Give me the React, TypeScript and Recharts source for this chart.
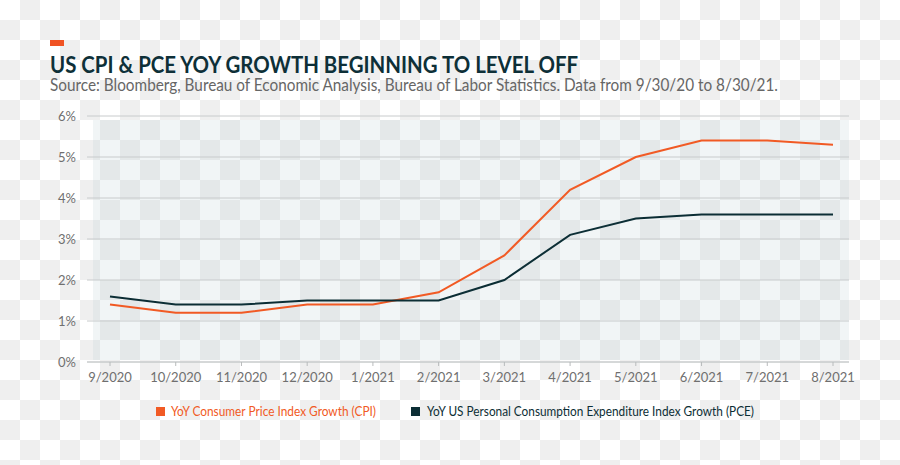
import React from 'react';
import { LineChart, Line, XAxis, YAxis, CartesianGrid } from 'recharts';

const months = ['9/2020', '10/2020', '11/2020', '12/2020', '1/2021', '2/2021', '3/2021', '4/2021', '5/2021', '6/2021', '7/2021', '8/2021'];
const cpiValues = [1.4, 1.2, 1.2, 1.4, 1.4, 1.7, 2.6, 4.2, 5.0, 5.4, 5.4, 5.3];
const pceValues = [1.6, 1.4, 1.4, 1.5, 1.5, 1.5, 2.0, 3.1, 3.5, 3.6, 3.6, 3.6];
const yTicks = [0, 1, 2, 3, 4, 5, 6];

const TITLE = 'US CPI & PCE YOY GROWTH BEGINNING TO LEVEL OFF';
const SUBTITLE = 'Source: Bloomberg, Bureau of Economic Analysis, Bureau of Labor Statistics. Data from 9/30/20 to 8/30/21.';
const CPI_NAME = 'YoY Consumer Price Index Growth (CPI)';
const PCE_NAME = 'YoY US Personal Consumption Expenditure Index Growth (PCE)';

const ORANGE = '#f15a24';
const DARK = '#0c2e35';
const GRID = '#c8cbcc';
const TICK = '#6f6f6f';
const FONT = 'Lato, "Open Sans", sans-serif';

const data = months.map((m, i) => ({ month: m, cpi: cpiValues[i], pce: pceValues[i] }));

const series = [
  { key: 'cpi', name: CPI_NAME, color: ORANGE, textColor: ORANGE },
  { key: 'pce', name: PCE_NAME, color: DARK, textColor: DARK },
];

const checker = (light: string, dark: string) => ({
  backgroundColor: light,
  backgroundImage: `conic-gradient(${dark} 25%, transparent 0 50%, ${dark} 0 75%, transparent 0)`,
  backgroundSize: '40px 40px',
});

export default function App() {
  return (
    <div style={{ position: 'absolute', left: 0, top: 0, width: 900, height: 465, overflow: 'hidden', ...checker('#ffffff', '#efefef') }}>
      <div
        style={{
          position: 'absolute',
          left: 93,
          top: 120,
          width: 756,
          height: 240,
          ...checker('#f1f5f6', '#e4e8e9'),
          backgroundPosition: '-93px -120px',
        }}
      />
      <div style={{ position: 'absolute', left: 0, top: 0 }}>
        <LineChart width={900} height={465} data={data} margin={{ top: 116, right: 51, bottom: 73, left: 37 }}>
          <CartesianGrid vertical={false} stroke={GRID} strokeWidth={1} />
          <XAxis
            dataKey="month"
            padding={{ left: 23, right: 16 }}
            height={30}
            axisLine={{ stroke: GRID }}
            tickLine={{ stroke: '#b8bbbc' }}
            tickSize={4}
            tickMargin={7}
            tick={{ fill: TICK, fontSize: 13, fontFamily: FONT }}
            interval={0}
          />
          <YAxis
            domain={[0, 6]}
            ticks={yTicks}
            width={50}
            axisLine={false}
            tickLine={false}
            tickSize={0}
            tickMargin={11}
            tickFormatter={(v: number) => `${v}%`}
            tick={{ fill: TICK, fontSize: 13, fontFamily: FONT }}
          />
          {series.map((s) => (
            <Line
              key={s.key}
              type="linear"
              dataKey={s.key}
              name={s.name}
              stroke={s.color}
              strokeWidth={2}
              dot={false}
              activeDot={false}
              isAnimationActive={false}
            />
          ))}
        </LineChart>
      </div>
      <svg width={900} height={465} style={{ position: 'absolute', left: 0, top: 0, pointerEvents: 'none' }}>
        <rect x={50} y={40} width={14} height={6} fill="#f05323" />
        <text x={50} y={72.5} fontFamily={FONT} fontWeight={700} fontSize={23} fill="#0e3038" textLength={528} lengthAdjust="spacingAndGlyphs">
          {TITLE}
        </text>
        <text x={50} y={91} fontFamily={FONT} fontSize={17} fill="#666666" textLength={728} lengthAdjust="spacingAndGlyphs">
          {SUBTITLE}
        </text>
        <rect x={156} y={407} width={9} height={9} fill={series[0].color} />
        <text x={171} y={416} fontFamily={FONT} fontSize={13} fill={series[0].textColor} textLength={205} lengthAdjust="spacingAndGlyphs">
          {series[0].name}
        </text>
        <rect x={411} y={407} width={9} height={9} fill={series[1].color} />
        <text x={427} y={416} fontFamily={FONT} fontSize={13} fill={series[1].textColor} textLength={327} lengthAdjust="spacingAndGlyphs">
          {series[1].name}
        </text>
      </svg>
    </div>
  );
}
